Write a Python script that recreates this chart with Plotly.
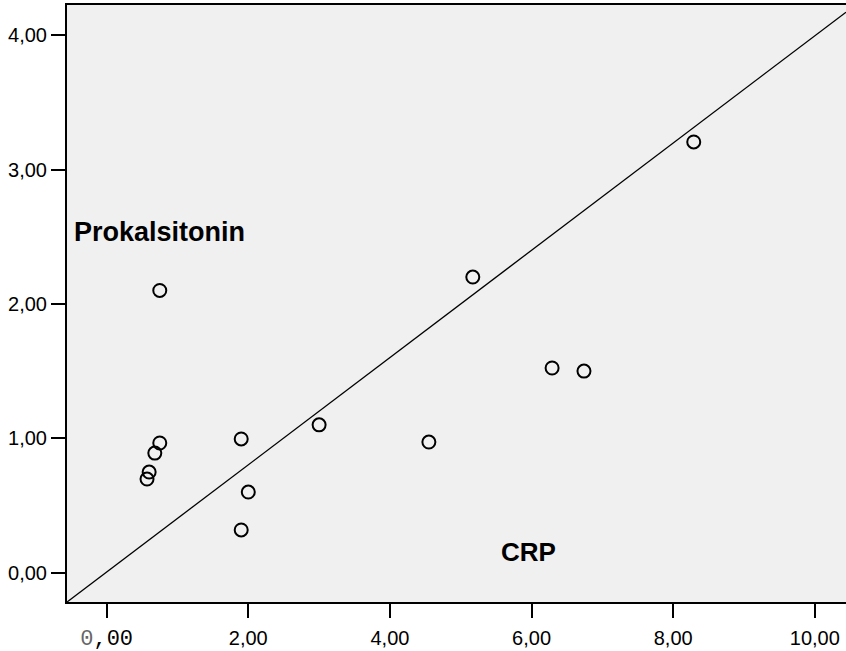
import plotly.graph_objects as go

# CRP (x) vs Prokalsitonin (y)
crp = [8.29, 5.17, 0.75, 6.29, 6.74, 3.00, 4.55, 1.90, 0.75, 0.68, 0.60, 0.57, 2.00, 1.90]
prokalsitonin = [3.205, 2.20, 2.10, 1.523, 1.50, 1.10, 0.972, 0.995, 0.965, 0.89, 0.749, 0.697, 0.60, 0.318]

# reference line y = a + b*x
line_a = 0.005
line_b = 0.399

x_ticks = [0, 2, 4, 6, 8, 10]
x_tick_text = ['<span style="font-family:\'Liberation Mono\';font-size:22px"><span style="color:#666">0</span>,00</span>',
               "2,00", "4,00", "6,00", "8,00", "10,00"]
y_ticks = [0, 1, 2, 3, 4]
y_tick_text = ["0,00", "1,00", "2,00", "3,00", "4,00"]

x_range = [-0.56, 10.44]
y_range = [-0.218, 4.224]

font_family = "Arial, Liberation Sans, sans-serif"

fig = go.Figure()

fig.add_trace(go.Scatter(
    x=x_range,
    y=[line_a + line_b * v for v in x_range],
    mode="lines",
    line=dict(color="black", width=1.3),
    hoverinfo="skip",
    showlegend=False,
))

fig.add_trace(go.Scatter(
    x=crp,
    y=prokalsitonin,
    mode="markers",
    marker=dict(symbol="circle-open", size=13, color="black", line=dict(width=2, color="black")),
    showlegend=False,
))

fig.add_annotation(x=-0.49, y=2.535, xref="x", yref="y", text="<b>Prokalsitonin</b>",
                   showarrow=False, xanchor="left", yanchor="middle",
                   font=dict(family=font_family, size=27, color="black"))
fig.add_annotation(x=5.54, y=0.154, xref="x", yref="y", text="<b>CRP</b>",
                   showarrow=False, xanchor="left", yanchor="middle",
                   font=dict(family=font_family, size=26, color="black"))

fig.update_layout(
    width=846,
    height=651,
    margin=dict(l=67, r=0, t=5, b=49),
    paper_bgcolor="white",
    plot_bgcolor="#F0F0F0",
    font=dict(family=font_family, size=20, color="black"),
    xaxis=dict(
        range=x_range,
        tickmode="array",
        tickvals=x_ticks,
        ticktext=x_tick_text,
        showgrid=False,
        zeroline=False,
        showline=True,
        linecolor="black",
        linewidth=2,
        mirror=True,
        ticks="outside",
        ticklen=14,
        tickwidth=2,
        tickcolor="black",
        ticklabelstandoff=3,
        tickfont=dict(family=font_family, size=20, color="black"),
    ),
    yaxis=dict(
        range=y_range,
        tickmode="array",
        tickvals=y_ticks,
        ticktext=y_tick_text,
        showgrid=False,
        zeroline=False,
        showline=True,
        linecolor="black",
        linewidth=2,
        ticks="outside",
        ticklen=14,
        tickwidth=2,
        tickcolor="black",
        tickfont=dict(family=font_family, size=20, color="black"),
    ),
)

fig.write_html("out.html")
